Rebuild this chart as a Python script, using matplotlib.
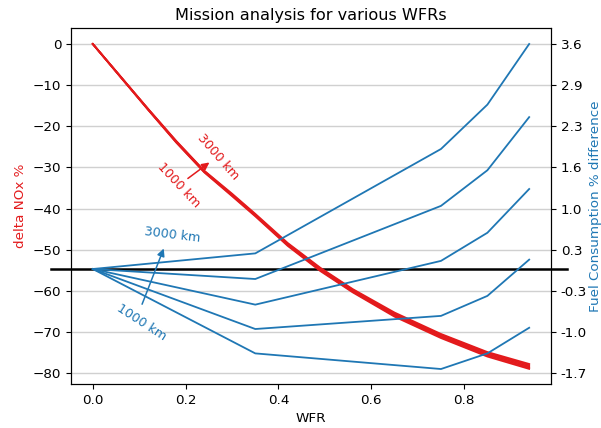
import matplotlib

matplotlib.use("Agg")
import matplotlib.pyplot as plt
import matplotlib.transforms as mtransforms
import numpy as np

# mission ranges, 1000 km (lowest) to 3000 km (highest)
RANGES_KM = [1000, 1500, 2000, 2500, 3000]

# delta NOx % vs water-to-fuel ratio, one list per range
NOX_WFR = [0.0, 0.06, 0.12, 0.18, 0.24, 0.30, 0.35, 0.42, 0.49, 0.56, 0.65, 0.75, 0.85, 0.94]
NOX_1000 = [0, -8.1, -16.1, -24.0, -31.2, -37.0, -41.9, -49.1, -55.2, -60.4, -66.3, -71.5, -76.0, -79.0]
NOX_1500 = [0, -8.0, -16.1, -23.9, -31.1, -36.8, -41.7, -48.9, -55.0, -60.2, -66.0, -71.2, -75.7, -78.7]
NOX_2000 = [0, -8.0, -16.0, -23.8, -31.0, -36.7, -41.6, -48.8, -54.8, -60.0, -65.8, -71.0, -75.4, -78.4]
NOX_2500 = [0, -8.0, -15.9, -23.7, -30.9, -36.6, -41.5, -48.6, -54.6, -59.8, -65.6, -70.7, -75.1, -78.1]
NOX_3000 = [0, -7.9, -15.9, -23.6, -30.8, -36.4, -41.3, -48.4, -54.4, -59.6, -65.3, -70.5, -74.9, -77.8]

# fuel consumption % difference vs WFR
FUEL_WFR = [0.0, 0.35, 0.75, 0.85, 0.94]
FUEL_1000 = [0, -1.35, -1.60, -1.35, -0.94]
FUEL_1500 = [0, -0.96, -0.75, -0.43, 0.15]
FUEL_2000 = [0, -0.57, 0.13, 0.58, 1.28]
FUEL_2500 = [0, -0.16, 1.01, 1.58, 2.43]
FUEL_3000 = [0, 0.25, 1.92, 2.63, 3.60]

NOX_TICKS = [0, -10, -20, -30, -40, -50, -60, -70, -80]

RED = "#e31a1c"
BLUE = "#1f77b4"

# right axis is tied to the left one: 0 % NOx <-> 3.6 %, slope per NOx %
FUEL_AT_NOX_ZERO = 3.6
FUEL_PER_NOX = 0.0658
NOX_LIM = (-82.67, 3.89)


def fuel_of(nox):
    return FUEL_AT_NOX_ZERO + FUEL_PER_NOX * np.asarray(nox, dtype=float)


def main() -> None:
    plt.rcParams["font.size"] = 9.7
    fig = plt.figure(figsize=(6.01, 4.28), dpi=100)
    ax1 = fig.add_axes([0.1181, 0.1028, 0.7987, 0.8318])
    ax2 = ax1.twinx()

    ax1.set_ylim(*NOX_LIM)
    ax2.set_ylim(*fuel_of(NOX_LIM))
    ax1.set_yticks(NOX_TICKS)
    ax2.set_yticks(fuel_of(NOX_TICKS))
    ax2.set_yticklabels([f"{v:.1f}" for v in fuel_of(NOX_TICKS)])
    ax1.grid(axis="y", color="#d0d0d0", linewidth=1.0)
    ax1.set_axisbelow(True)

    # zero fuel-difference reference, sticking out past both spines
    trans = mtransforms.blended_transform_factory(ax1.transAxes, ax2.transData)
    ax1.plot([-0.042, 1.033], [0, 0], color="black", linewidth=1.8,
             transform=trans, clip_on=False, zorder=2)

    for nox in [NOX_1000, NOX_1500, NOX_2000, NOX_2500, NOX_3000]:
        ax1.plot(NOX_WFR, nox, color=RED, linewidth=1.3, zorder=3)
    for fuel in [FUEL_1000, FUEL_1500, FUEL_2000, FUEL_2500, FUEL_3000]:
        ax2.plot(FUEL_WFR, fuel, color=BLUE, linewidth=1.3)

    arrow_red = dict(arrowstyle="-|>", color=RED, lw=1.1, mutation_scale=11)
    ax1.annotate("", xy=(0.256, -28.4), xytext=(0.2, -33.1), arrowprops=arrow_red, zorder=4)
    ax1.text(0.27, -27.4, f"{RANGES_KM[-1]} km", color=RED, fontsize=9.2,
             rotation=-49, ha="center", va="center", zorder=4)
    ax1.text(0.186, -34.3, f"{RANGES_KM[0]} km", color=RED, fontsize=9.2,
             rotation=-47, ha="center", va="center", zorder=4)

    arrow_blue = dict(arrowstyle="-|>", color=BLUE, lw=1.1, mutation_scale=11)
    ax1.annotate("", xy=(0.155, -49.1), xytext=(0.104, -63.9), arrowprops=arrow_blue, zorder=4)
    ax1.text(0.171, -46.5, f"{RANGES_KM[-1]} km", color=BLUE, fontsize=9.2,
             rotation=-7, ha="center", va="center", zorder=4)
    ax1.text(0.104, -67.6, f"{RANGES_KM[0]} km", color=BLUE, fontsize=9.2,
             rotation=-33, ha="center", va="center", zorder=4)

    ax1.set_xlabel("WFR")
    ax1.set_ylabel("delta NOx %", color=RED)
    ax2.set_ylabel("Fuel Consumption % difference", color=BLUE, labelpad=1.5)
    ax1.set_title("Mission analysis for various WFRs", fontsize=11.6)

    fig.savefig("out.png", dpi=100)
    plt.close(fig)


if __name__ == "__main__":
    main()
